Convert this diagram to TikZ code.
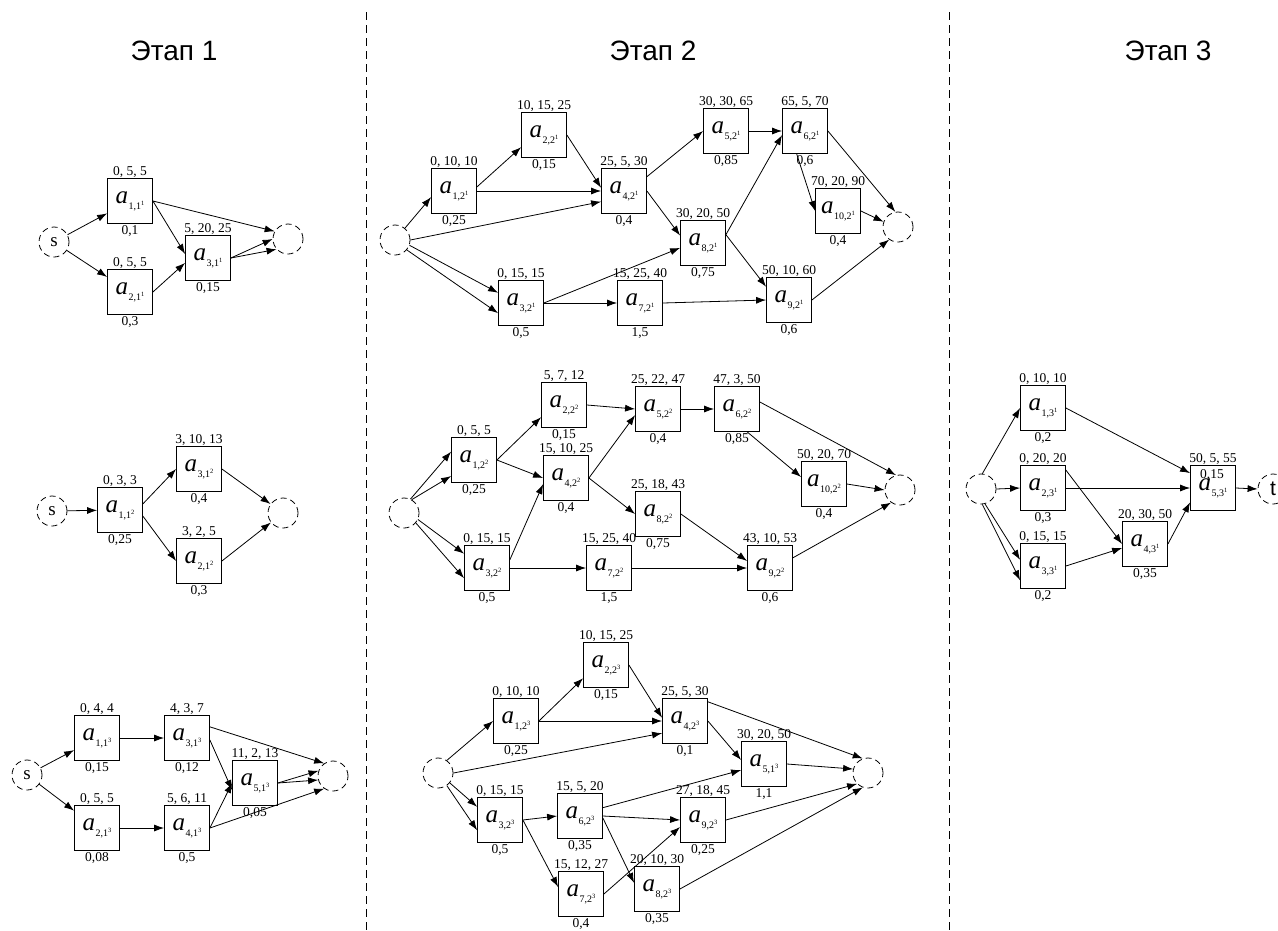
\documentclass[tikz,border=0pt]{standalone}
\usepackage{fontspec}
\setmainfont{Liberation Serif}
\newfontfamily\arialf{Liberation Sans}
\usetikzlibrary{arrows.meta}
\newcommand{\av}[3]{{\fontsize{25}{25}\selectfont\itshape a}\kern0.5pt\raisebox{-6pt}{\fontsize{10}{10}\selectfont #1,#2\raisebox{4pt}{\fontsize{6.5}{6.5}\selectfont #3}}}
\newcommand{\bx}[7]{\node[abox,label={[tlab]above:{#6}},label={[blab]below:{#7}}] (#1) at (#2) {\av{#3}{#4}{#5}};}
\tikzset{
  abox/.style={draw, line width=0.8pt, minimum width=45pt, minimum height=45pt, inner sep=0pt},
  tlab/.style={font=\fontsize{13.5}{14}\selectfont, inner sep=0.8pt},
  blab/.style={font=\fontsize{13.5}{14}\selectfont, inner sep=1.5pt},
  ev/.style={draw, circle, minimum size=30pt, inner sep=0pt, line width=0.8pt, dash pattern=on 6pt off 4pt, font=\fontsize{19}{19}\selectfont},
  arr/.style={-{Latex[length=10pt,width=7pt]}, line width=0.8pt},
  hdr/.style={font=\arialf\fontsize{28}{28}\selectfont},
  sep/.style={line width=0.7pt, dash pattern=on 8pt off 5pt}
}
\begin{document}
\begin{tikzpicture}[x=1pt,y=-1pt]
\useasboundingbox (0,0) rectangle (1278,930);
% headers and separators
\node[hdr] (h1) at (174,51) {Этап 1};
\node[hdr] (h2) at (653,51) {Этап 2};
\node[hdr] (h3) at (1168,51) {Этап 3};
\coordinate (l1a) at (366,12); \coordinate (l1b) at (366,930);
\coordinate (l2a) at (949,12); \coordinate (l2b) at (949,930);
\draw[sep] (l1a) -- (l1b);
\draw[sep] (l2a) -- (l2b);

% ===== Stage 1, graph 1
\node[ev] (s1) at (54,242) {s};
\bx{a111}{130,201}{1}{1}{1}{0, 5, 5}{0,1}
\bx{a211}{130,292}{2}{1}{1}{0, 5, 5}{0,3}
\bx{a311}{208,258}{3}{1}{1}{5, 20, 25}{0,15}
\node[ev] (e1) at (288,239) {};
\draw[arr] (s1) -- (a111);
\draw[arr] (s1) -- (a211);
\draw[arr] (a111.east) -- (a311.170);
\draw[arr] (a211.east) -- (a311.192);
\draw[arr] (a111.east) -- (e1.150);
\draw[arr] (a311.east) -- (e1.180);
\draw[arr] (a311.east) -- (e1.222);

% ===== Stage 1, graph 2
\node[ev] (s2) at (52,511) {s};
\bx{a112}{120,510}{1}{1}{2}{0, 3, 3}{0,25}
\bx{a312}{199,469}{3}{1}{2}{3, 10, 13}{0,4}
\bx{a212}{199,561}{2}{1}{2}{3, 2, 5}{0,3}
\node[ev] (e2) at (283,513) {};
\draw[arr] (s2) -- (a112);
\draw[arr] (a112.15) -- (a312.west);
\draw[arr] (a112.-15) -- (a212.west);
\draw[arr] (a312.east) -- (e2);
\draw[arr] (a212.east) -- (e2);

% ===== Stage 1, graph 3
\node[ev] (s3) at (27,775) {s};
\bx{a113}{97,738}{1}{1}{3}{0, 4, 4}{0,15}
\bx{a313}{187,738}{3}{1}{3}{4, 3, 7}{0,12}
\bx{a513}{255,783}{5}{1}{3}{11, 2, 13}{0,05}
\bx{a213}{97,828}{2}{1}{3}{0, 5, 5}{0,08}
\bx{a413}{187,828}{4}{1}{3}{5, 6, 11}{0,5}
\node[ev] (e3) at (333,776) {};
\draw[arr] (s3) -- (a113);
\draw[arr] (s3) -- (a213);
\draw[arr] (a113.east) -- (a313.west);
\draw[arr] (a213.east) -- (a413.west);
\draw[arr] (a313.26) -- (e3.125);
\draw[arr] (a313.-5) -- (a513.197);
\draw[arr] (a413.east) -- (a513.west);
\draw[arr] (a413.east) -- (e3.235);
\draw[arr] (a513.east) -- (e3.160);
\draw[arr] (a513.east) -- (e3.195);

% ===== Stage 2, graph 1
\node[ev] (c21) at (395,240) {};
\bx{a122}{454,191}{1}{2}{1}{0, 10, 10}{0,25}
\bx{a222}{544,135}{2}{2}{1}{10, 15, 25}{0,15}
\bx{a422}{624,191}{4}{2}{1}{25, 5, 30}{0,4}
\bx{a322}{521,303}{3}{2}{1}{0, 15, 15}{0,5}
\bx{a722}{640,303}{7}{2}{1}{15, 25, 40}{1,5}
\bx{a522}{726,131}{5}{2}{1}{30, 30, 65}{0,85}
\bx{a622}{805,131}{6}{2}{1}{65, 5, 70}{0,6}
\bx{a1022}{838,211}{10}{2}{1}{70, 20, 90}{0,4}
\bx{a822}{703,243}{8}{2}{1}{30, 20, 50}{0,75}
\bx{a922}{789,300}{9}{2}{1}{50, 10, 60}{0,6}
\node[ev] (e21) at (898,227) {};
\draw[arr] (c21.50) -- (a122.195);
\draw[arr] (c21.east) -- (a422.205);
\draw[arr] (c21.-20) -- (a322.156);
\draw[arr] (c21.-40) -- (a322.204);
\draw[arr] (a122.10) -- (a222.208);
\draw[arr] (a122.east) -- (a422.west);
\draw[arr] (a222.east) -- (a422.172);
\draw[arr] (a422.32) -- (a522.west);
\draw[arr] (a422.east) -- (a822.162);
\draw[arr] (a322.east) -- (a822.192);
\draw[arr] (a322.east) -- (a722.west);
\draw[arr] (a722.east) -- (a922.west);
\draw[arr] (a522.east) -- (a622.west);
\draw[arr] (a822.20) -- (a622.190);
\draw[arr] (a822.20) -- (a922.150);
\draw[arr] (a622.250) -- (a1022.west);
\draw[arr] (a622.east) -- (e21.100);
\draw[arr] (a1022.east) -- (e21.160);
\draw[arr] (a922.east) -- (e21.235);

% ===== Stage 2, graph 2
\node[ev] (c22) at (404,513) {};
\bx{a1222}{474,460}{1}{2}{2}{0, 5, 5}{0,25}
\bx{a2222}{564,405}{2}{2}{2}{5, 7, 12}{0,15}
\bx{a4222}{566,478}{4}{2}{2}{15, 10, 25}{0,4}
\bx{a5222}{658,409}{5}{2}{2}{25, 22, 47}{0,4}
\bx{a8222}{658,514}{8}{2}{2}{25, 18, 43}{0,75}
\bx{a3222}{487,568}{3}{2}{2}{0, 15, 15}{0,5}
\bx{a7222}{609,568}{7}{2}{2}{15, 25, 40}{1,5}
\bx{a9222}{770,568}{9}{2}{2}{43, 10, 53}{0,6}
\bx{a6222}{737,409}{6}{2}{2}{47, 3, 50}{0,85}
\bx{a10222}{824,484}{10}{2}{2}{50, 20, 70}{0,4}
\node[ev] (e22) at (900,490) {};
\draw[arr] (c22.65) -- (a1222.160);
\draw[arr] (c22.60) -- (a1222.215);
\draw[arr] (c22.-25) -- (a3222.148);
\draw[arr] (c22.-40) -- (a3222.204);
\draw[arr] (a1222.east) -- (a2222.208);
\draw[arr] (a1222.east) -- (a4222.west);
\draw[arr] (a2222.east) -- (a5222.west);
\draw[arr] (a4222.east) -- (a5222.195);
\draw[arr] (a4222.east) -- (a8222.west);
\draw[arr] (a3222.20) -- (a4222.195);
\draw[arr] (a3222.east) -- (a7222.west);
\draw[arr] (a7222.east) -- (a9222.west);
\draw[arr] (a8222.east) -- (a9222.163);
\draw[arr] (a5222.east) -- (a6222.west);
\draw[arr] (a6222.-66) -- (a10222.163);
\draw[arr] (a6222.17) -- (e22.105);
\draw[arr] (a10222.east) -- (e22.west);
\draw[arr] (a9222.24) -- (e22.235);

% ===== Stage 2, graph 3
\node[ev] (c23) at (438,773) {};
\bx{a1223}{516,721}{1}{2}{3}{0, 10, 10}{0,25}
\bx{a2223}{606,665}{2}{2}{3}{10, 15, 25}{0,15}
\bx{a3223}{500,820}{3}{2}{3}{0, 15, 15}{0,5}
\bx{a6223}{580,816}{6}{2}{3}{15, 5, 20}{0,35}
\bx{a7223}{581,894}{7}{2}{3}{15, 12, 27}{0,4}
\bx{a8223}{657,889}{8}{2}{3}{20, 10, 30}{0,35}
\bx{a4223}{685,721}{4}{2}{3}{25, 5, 30}{0,1}
\bx{a5113}{764,764}{5}{1}{3}{30, 20, 50}{1,1}
\bx{a9223}{703,820}{9}{2}{3}{27, 18, 45}{0,25}
\node[ev] (e23) at (868,773) {};
\draw[arr] (c23.55) -- (a1223.west);
\draw[arr] (c23.east) -- (a4223.208);
\draw[arr] (c23.-40) -- (a3223.150);
\draw[arr] (c23.-55) -- (a3223.204);
\draw[arr] (a1223.east) -- (a2223.210);
\draw[arr] (a1223.east) -- (a4223.west);
\draw[arr] (a2223.east) -- (a4223.172);
\draw[arr] (a3223.east) -- (a6223.west);
\draw[arr] (a3223.east) -- (a7223.163);
\draw[arr] (a6223.20) -- (a5113.195);
\draw[arr] (a6223.east) -- (a9223.west);
\draw[arr] (a6223.-5) -- (a8223.165);
\draw[arr] (a7223.east) -- (a9223.197);
\draw[arr] (a4223.east) -- (a5113.170);
\draw[arr] (a4223.40) -- (e23.110);
\draw[arr] (a5113.east) -- (e23.165);
\draw[arr] (a9223.east) -- (e23.225);
\draw[arr] (a8223.east) -- (e23.250);

% ===== Stage 3
\node[ev] (c3) at (981,489) {};
\bx{a13}{1043,408}{1}{3}{1}{0, 10, 10}{0,2}
\bx{a23}{1043,488}{2}{3}{1}{0, 20, 20}{0,3}
\bx{a33}{1043,566}{3}{3}{1}{0, 15, 15}{0,2}
\bx{a43}{1145,544}{4}{3}{1}{20, 30, 50}{0,35}
\bx{a53}{1213,488}{5}{3}{1}{50, 5, 55}{}
\node[tlab] (a53w) at (1212,475) {0,15};
\node[ev, font=\arialf\fontsize{21}{21}\selectfont] (t) at (1273,489) {t};
\draw[arr] (c3.85) -- (a13.west);
\draw[arr] (c3.east) -- (a23.west);
\draw[arr] (c3.-75) -- (a33.165);
\draw[arr] (c3.-85) -- (a33.212);
\draw[arr] (a13.east) -- (a53.147);
\draw[arr] (a23.east) -- (a53.west);
\draw[arr] (a23.38) -- (a43.west);
\draw[arr] (a33.east) -- (a43.190);
\draw[arr] (a43.east) -- (a53.212);
\draw[arr] (a53.east) -- (t.west);
\end{tikzpicture}
\end{document}
